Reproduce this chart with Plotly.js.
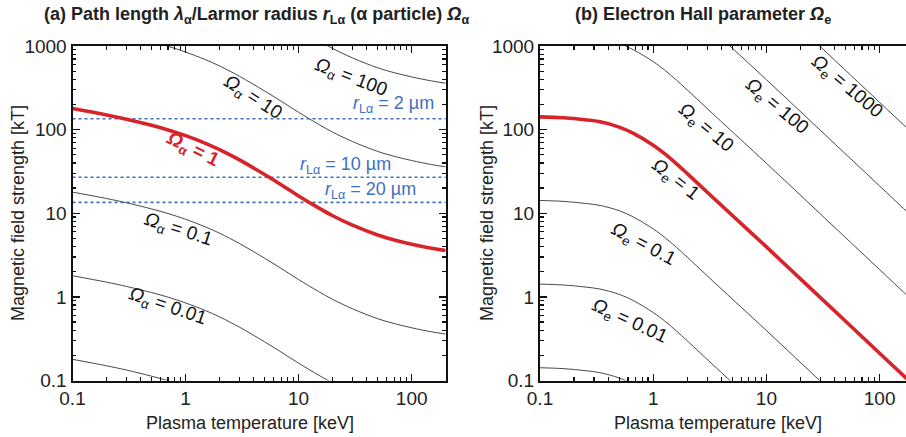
<!DOCTYPE html>
<html>
<head>
<meta charset="utf-8">
<script src="https://cdn.plot.ly/plotly-3.0.1.min.js"></script>
<style>html,body{margin:0;padding:0;background:#fff;}#chart{width:906px;height:437px;}</style>
</head>
<body>
<div id="chart"></div>
<script>
// ---------- Data ----------
// Panel (a): Omega_alpha contours, B [kT] vs T [keV]
const T_a = [0.1,0.2,0.3,0.5,0.7,1,1.5,2,3,5,7,10,15,20,30,50,70,100,150,200];
const Ba_0001 = [0.179,0.150,0.1334,0.1127,0.0992,0.0847,0.0686,0.0577,0.0434,0.0290,0.0219,0.0161,0.0116,0.00934,0.0072,0.00549,0.0048,0.00427,0.00382,0.00359];
const Ba_001  = [1.79,1.50,1.334,1.127,0.992,0.847,0.686,0.577,0.434,0.290,0.219,0.161,0.116,0.0934,0.072,0.0549,0.048,0.0427,0.0382,0.0359];
const Ba_01   = [17.9,15.0,13.34,11.27,9.92,8.47,6.86,5.77,4.34,2.90,2.19,1.61,1.16,0.934,0.72,0.549,0.48,0.427,0.382,0.359];
const Ba_1    = [179,150,133.4,112.7,99.2,84.7,68.6,57.7,43.4,29.0,21.9,16.1,11.6,9.34,7.2,5.49,4.8,4.27,3.82,3.59];
const Ba_10   = [1790,1500,1334,1127,992,847,686,577,434,290,219,161,116,93.4,72,54.9,48,42.7,38.2,35.9];
const Ba_100  = [17900,15000,13340,11270,9920,8470,6860,5770,4340,2900,2190,1610,1160,934,720,549,480,427,382,359];
// Larmor radius of alpha particle: field strength for r_L = 2, 10, 20 um
const rL_labels = ['2', '10', '20'];
const rL_B = [135, 27, 13.5];
const T_span = [0.1, 200];

// Panel (b): Omega_e contours
const T_e = [0.1,0.16,0.25,0.34,0.5,0.67,1,1.26,1.6,2,3.6,10,30,100,200];
const Be_0001 = [0.142,0.1387,0.1312,0.1239,0.1072,0.090,0.065,0.0516,0.0392,0.0298,0.0142,0.00396,0.00098,0.000212,0.0000877];
const Be_001  = [1.42,1.387,1.312,1.239,1.072,0.90,0.65,0.516,0.392,0.298,0.142,0.0396,0.0098,0.00212,0.000877];
const Be_01   = [14.2,13.87,13.12,12.39,10.72,9.0,6.5,5.16,3.92,2.98,1.42,0.396,0.098,0.0212,0.00877];
const Be_1    = [142,138.7,131.2,123.9,107.2,90,65,51.6,39.2,29.8,14.2,3.96,0.98,0.212,0.0877];
const Be_10   = [1420,1387,1312,1239,1072,900,650,516,392,298,142,39.6,9.8,2.12,0.877];
const Be_100  = [14200,13870,13120,12390,10720,9000,6500,5160,3920,2980,1420,396,98,21.2,8.77];
const Be_1000 = [142000,138700,131200,123900,107200,90000,65000,51600,39200,29800,14200,3960,980,212,87.7];

const xTickVals = [0.1, 1, 10, 100];
const xTickText = ['0.1', '1', '10', '100'];
const yTickVals = [0.1, 1, 10, 100, 1000];
const yTickText = ['0.1', '1', '10', '100', '1000'];

// ---------- Styles ----------
const FONT = 'Liberation Sans, Arial, Helvetica, sans-serif';
const thin = {color: '#333333', width: 0.9, shape: 'spline', smoothing: 1};
const red = {color: '#d7242b', width: 3.6, shape: 'spline', smoothing: 1};
const blue = '#3f6fbf';

function minorVals(lo, hi) {
  const v = [];
  for (let e = lo; e < hi; e++) for (let d = 2; d <= 9; d++) v.push(d * Math.pow(10, e));
  return v;
}

const traces = [];
[Ba_0001, Ba_001, Ba_01, Ba_10, Ba_100].forEach(b => traces.push({x: T_a, y: b, xaxis: 'x', yaxis: 'y', mode: 'lines', line: thin, hoverinfo: 'skip'}));
rL_B.forEach(b => traces.push({x: T_span, y: [b, b], xaxis: 'x', yaxis: 'y', mode: 'lines', line: {color: blue, width: 1.6, dash: 'dot'}, hoverinfo: 'skip'}));
traces.push({x: T_a, y: Ba_1, xaxis: 'x', yaxis: 'y', mode: 'lines', line: red, hoverinfo: 'skip'});

[Be_0001, Be_001, Be_01, Be_10, Be_100, Be_1000].forEach(b => traces.push({x: T_e, y: b, xaxis: 'x2', yaxis: 'y2', mode: 'lines', line: thin, hoverinfo: 'skip'}));
traces.push({x: T_e, y: Be_1, xaxis: 'x2', yaxis: 'y2', mode: 'lines', line: red, hoverinfo: 'skip'});

function axis(extra) {
  return Object.assign({
    type: 'log', showgrid: false, zeroline: false, showline: true,
    linewidth: 2, linecolor: '#111', ticks: 'inside', ticklen: 7, tickwidth: 1.4, tickcolor: '#111',
    tickfont: {family: FONT, size: 19, color: '#222'}, tickmode: 'array',
    fixedrange: true,
    minor: {tickmode: 'array', tickvals: minorVals(-1, 3), ticks: 'inside', ticklen: 3.5, tickwidth: 1.2, tickcolor: '#111'}
  }, extra);
}

const yDom = [1 - 380.5/437, 1 - 46/437];
const layout = {
  width: 906, height: 437, margin: {l: 0, r: 0, t: 0, b: 0},
  paper_bgcolor: '#fff', plot_bgcolor: '#fff', showlegend: false,
  font: {family: FONT, color: '#222'},
  xaxis: axis({domain: [72.5/906, 445.7/906], range: [-1, Math.log10(200)], anchor: 'y', mirror: 'ticks',
    tickvals: xTickVals, ticktext: xTickText}),
  yaxis: axis({domain: yDom, range: [-1, 3], anchor: 'x', mirror: 'ticks',
    tickvals: yTickVals, ticktext: yTickText}),
  xaxis2: axis({domain: [540/906, 1], range: [-1, -1 + 366/113.2], anchor: 'y2', mirror: 'ticks',
    tickvals: xTickVals, ticktext: xTickText}),
  yaxis2: axis({domain: yDom, range: [-1, 3], anchor: 'x2', mirror: false,
    tickvals: yTickVals, ticktext: yTickText}),
  annotations: []
};

const A = layout.annotations;
const OM = '<i>Ω</i>';
function lab(xr, yr, lx, ly, text, angle, opts) {
  A.push(Object.assign({xref: xr, yref: yr, x: lx, y: ly, text: text, textangle: angle, showarrow: false,
    font: {family: FONT, size: 19, color: '#111'}, xanchor: 'center', yanchor: 'middle'}, opts || {}));
}
// panel titles
lab('paper', 'paper', 256/906, 1 - 15/437, '<b>(a) Path length <i>λ</i><sub>α</sub>/Larmor radius <i>r</i><sub>Lα</sub> (α particle) <i>Ω</i><sub>α</sub></b>', 0, {font: {family: FONT, size: 18, color: '#222'}});
lab('paper', 'paper', 703/906, 1 - 15/437, '<b>(b) Electron Hall parameter <i>Ω</i><sub>e</sub></b>', 0, {font: {family: FONT, size: 18, color: '#222'}});
// axis titles
lab('paper', 'paper', 250/906, 1 - 423/437, 'Plasma temperature [keV]', 0, {font: {family: FONT, size: 18, color: '#222'}});
lab('paper', 'paper', 717.5/906, 1 - 423/437, 'Plasma temperature [keV]', 0, {font: {family: FONT, size: 18, color: '#222'}});
lab('paper', 'paper', 18/906, 1 - 213/437, 'Magnetic field strength [kT]', -90, {font: {family: FONT, size: 18, color: '#222'}});
lab('paper', 'paper', 487/906, 1 - 213/437, 'Magnetic field strength [kT]', -90, {font: {family: FONT, size: 18, color: '#222'}});

// contour labels, panel (a)
lab('x', 'y', 1.46, 2.613, OM + '<sub>α</sub> = 100', 21);
lab('x', 'y', 0.593, 2.374, OM + '<sub>α</sub> = 10', 33);
lab('x', 'y', 0.064, 1.754, '<b>' + OM + '<sub>α</sub> = 1</b>', 26, {font: {family: FONT, size: 19, color: '#d7242b'}});
lab('x', 'y', -0.068, 0.796, OM + '<sub>α</sub> = 0.1', 18);
lab('x', 'y', -0.156, -0.122, OM + '<sub>α</sub> = 0.01', 19);
// r_L labels
const rLpos = [[1.839, 2.305], [1.419, 1.575], [1.636, 1.276]];
rL_labels.forEach((s, i) => lab('x', 'y', rLpos[i][0], rLpos[i][1], '<i>r</i><sub>Lα</sub> = ' + s + ' µm', 0, {font: {family: FONT, size: 18, color: blue}}));

// contour labels, panel (b)
lab('x2', 'y2', 1.709, 2.513, OM + '<sub>e</sub> = 1000', 40);
lab('x2', 'y2', 1.091, 2.273, OM + '<sub>e</sub> = 100', 40);
lab('x2', 'y2', 0.458, 2.014, OM + '<sub>e</sub> = 10', 40);
lab('x2', 'y2', 0.193, 1.395, OM + '<sub>e</sub> = 1', 38);
lab('x2', 'y2', -0.087, 0.617, OM + '<sub>e</sub> = 0.1', 28);
lab('x2', 'y2', -0.205, -0.302, OM + '<sub>e</sub> = 0.01', 25);

Plotly.newPlot('chart', traces, layout, {displayModeBar: false, staticPlot: true});
</script>
</body>
</html>
